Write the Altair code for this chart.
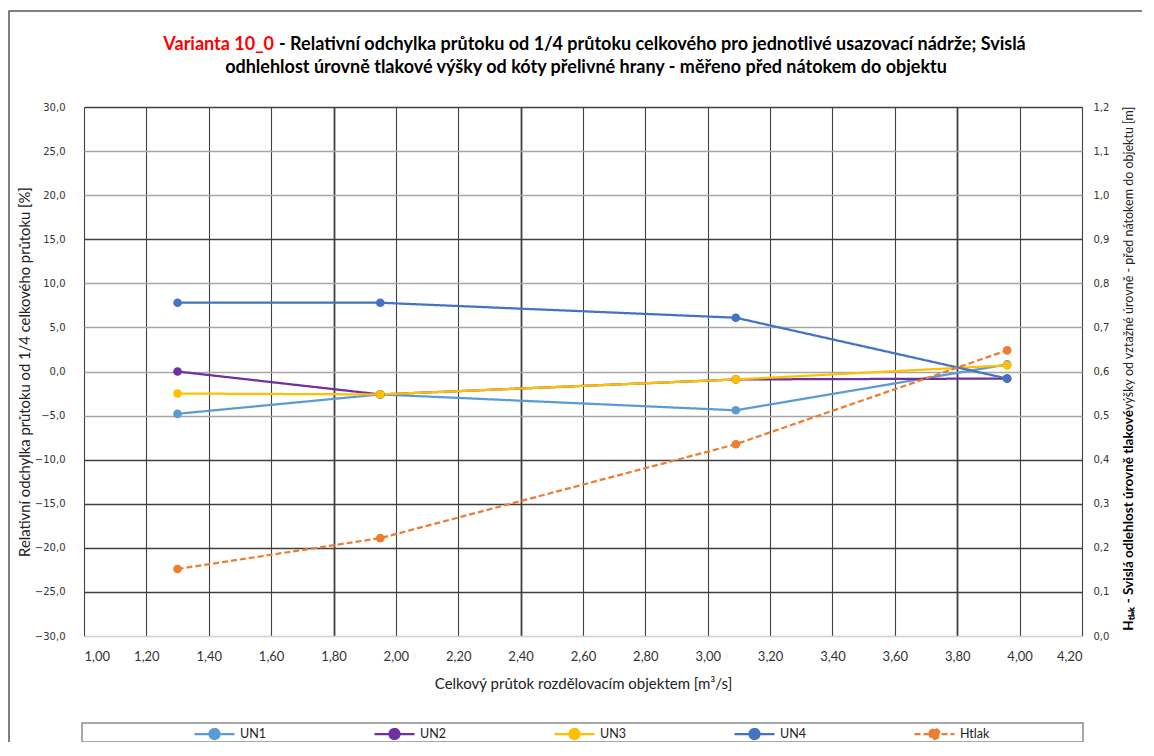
import altair as alt
import pandas as pd

# ---- data ----
x_flow = [1.30, 1.95, 3.09, 3.96]
un1 = [-4.8, -2.6, -4.4, 0.8]
un2 = [0.0, -2.6, -0.9, -0.8]
un3 = [-2.5, -2.6, -0.9, 0.7]
un4 = [7.8, 7.8, 6.1, -0.8]
htlak = [0.152, 0.222, 0.435, 0.648]

series_names = ["UN1", "UN2", "UN3", "UN4", "Htlak"]
series_colors = ["#5B9BD5", "#7030A0", "#FFC000", "#4472C4", "#ED7D31"]
series_dash = [[1, 0], [1, 0], [1, 0], [1, 0], [6, 3]]

x_ticks = [1.0, 1.2, 1.4, 1.6, 1.8, 2.0, 2.2, 2.4, 2.6, 2.8, 3.0, 3.2, 3.4, 3.6, 3.8, 4.0, 4.2]
y_left_ticks = [-30, -25, -20, -15, -10, -5, 0, 5, 10, 15, 20, 25, 30]
y_right_ticks = [0.0, 0.1, 0.2, 0.3, 0.4, 0.5, 0.6, 0.7, 0.8, 0.9, 1.0, 1.1, 1.2]

title_red = "Varianta 10_0"
title_line1 = "- Relativní odchylka průtoku od 1/4 průtoku celkového pro jednotlivé usazovací nádrže; Svislá"
title_line2 = "odhlehlost úrovně tlakové výšky od kóty přelivné hrany - měřeno před nátokem do objektu"
x_title = "Celkový průtok rozdělovacím objektem [m³/s]"
y_left_title = "Relativní odchylka průtoku od 1/4 celkového průtoku [%]"
y_right_title_bold = "Hₜₗₐₖ - Svislá odlehlost úrovně tlakové"
y_right_title_rest = " výšky od vztažné úrovně - před nátokem do objektu [m]"

left_rows = []
for name, vals in zip(series_names[:4], [un1, un2, un3, un4]):
    for xv, yv in zip(x_flow, vals):
        left_rows.append({"Q": xv, "val": yv, "series": name})
left_df = pd.DataFrame(left_rows)
right_df = pd.DataFrame({"Q": x_flow, "val": htlak, "series": ["Htlak"] * len(x_flow)})

FONT = "Lato"
W, H = 998, 529

legend_path = ("M-1,0L1,0 "
               "M-0.25,0A0.25,0.25 0 1,1 0.25,0A0.25,0.25 0 1,1 -0.25,0Z")

legend = alt.Legend(
    orient="none", legendX=109, legendY=605.5, direction="horizontal", columns=5,
    gridAlign="all", columnPadding=100, title=None, padding=0,
    symbolType=legend_path, symbolSize=1600, symbolStrokeWidth=2.25,
    labelFont=FONT, labelFontSize=12.5, labelColor="#222222", labelOffset=4,
)

color = alt.Color("series:N", scale=alt.Scale(domain=series_names, range=series_colors), legend=legend)
dash = alt.StrokeDash("series:N", scale=alt.Scale(domain=series_names, range=series_dash), legend=legend)

x_enc = alt.X(
    "Q:Q",
    scale=alt.Scale(domain=[1.0, 4.2], nice=False, zero=False),
    axis=alt.Axis(
        values=x_ticks, title=x_title, domain=False, ticks=False,
        labelExpr="replace(format(datum.value, '.2f'), '.', ',')",
        labelFont=FONT, labelFontSize=13, labelColor="#333333", labelPadding=14,
        titleFont=FONT, titleFontSize=15, titleFontWeight="normal", titleColor="#222222",
        titlePadding=13,
        grid=True, gridColor="#404040",
        gridWidth={"condition": {"test": "abs(datum.value-1.8)<0.01 || abs(datum.value-2.4)<0.01 || abs(datum.value-3.8)<0.01", "value": 1.8}, "value": 1.1},
    ),
)

left_axis = alt.Axis(
    values=y_left_ticks, title=y_left_title, domain=False, ticks=False,
    labelExpr="replace(format(datum.value, '.1f'), '.', ',')",
    labelFont="DejaVu Sans", labelFontSize=10, labelColor="#333333", labelPadding=19,
    titleFont=FONT, titleFontSize=14.8, titleFontWeight="normal", titleColor="#222222",
    titlePadding=2,
    grid=True,
    gridColor={"condition": [
        {"test": "datum.value == -30", "value": "#d0d0d0"},
        {"test": "datum.value == 30 || datum.value == 15 || datum.value <= -10", "value": "#404040"},
    ], "value": "#a6a6a6"},
    gridWidth=1.3,
)
right_axis = alt.Axis(
    values=y_right_ticks, title=None, orient="right", domain=False, ticks=False, grid=False,
    labelExpr="replace(format(datum.value, '.1f'), '.', ',')",
    labelFont="DejaVu Sans", labelFontSize=10, labelColor="#333333", labelPadding=11,
)

y_left = alt.Y("val:Q", scale=alt.Scale(domain=[-30, 30], nice=False), axis=left_axis)
y_right = alt.Y("val:Q", scale=alt.Scale(domain=[0, 1.2], nice=False), axis=right_axis)

left_lines = alt.Chart(left_df).mark_line(strokeWidth=2.25).encode(
    x=x_enc, y=y_left, color=color, strokeDash=dash, detail="series:N")
left_points = alt.Chart(left_df).mark_point(filled=True, size=75, opacity=1).encode(
    x=x_enc, y=y_left, color=color)
left = alt.layer(left_lines, left_points)

right_lines = alt.Chart(right_df).mark_line(strokeWidth=2.25).encode(
    x=x_enc, y=y_right, color=color, strokeDash=dash)
right_points = alt.Chart(right_df).mark_point(filled=True, size=75, opacity=1).encode(
    x=x_enc, y=y_right, color=color)
right = alt.layer(right_lines, right_points)

one = pd.DataFrame({"k": [0]})

frame = alt.Chart(one).mark_rect(fillOpacity=0, fill="white", stroke="#555555", strokeWidth=1.5).encode(
    x=alt.value(-75), x2=alt.value(1120), y=alt.value(-96), y2=alt.value(700))
legend_box = alt.Chart(one).mark_rect(fillOpacity=0, fill="white", stroke="#8c8c8c", strokeWidth=1.5).encode(
    x=alt.value(-2), x2=alt.value(999), y=alt.value(616), y2=alt.value(635))

TS = 18
t_red = alt.Chart(pd.DataFrame({"t": [title_red]})).mark_text(
    font=FONT, fontSize=TS, fontWeight="bold", color="#FF0000", align="right", baseline="middle"
).encode(text="t:N", x=alt.value(190), y=alt.value(-62))
t_l1 = alt.Chart(pd.DataFrame({"t": [title_line1]})).mark_text(
    font=FONT, fontSize=TS, fontWeight="bold", color="#000000", align="left", baseline="middle"
).encode(text="t:N", x=alt.value(195), y=alt.value(-62))
t_l2 = alt.Chart(pd.DataFrame({"t": [title_line2]})).mark_text(
    font=FONT, fontSize=TS, fontWeight="bold", color="#000000", align="center", baseline="middle"
).encode(text="t:N", x=alt.value(502), y=alt.value(-39))

r_bold = alt.Chart(pd.DataFrame({"t": [y_right_title_bold]})).mark_text(
    font=FONT, fontSize=13.5, fontWeight="bold", color="#000000", align="right", baseline="middle", angle=270
).encode(text="t:N", x=alt.value(1045), y=alt.value(303))
r_rest = alt.Chart(pd.DataFrame({"t": [y_right_title_rest]})).mark_text(
    font=FONT, fontSize=12.5, fontWeight="normal", color="#222222", align="left", baseline="middle", angle=270
).encode(text="t:N", x=alt.value(1045), y=alt.value(303))

chart = alt.layer(
    frame, legend_box, left, right, t_red, t_l1, t_l2, r_bold, r_rest
).resolve_scale(y="independent").properties(
    width=W, height=H,
    autosize=alt.AutoSizeParams(type="none"),
    padding={"left": 76, "top": 99, "right": 60, "bottom": 106},
).configure_view(stroke=None).configure(background="white")

chart.save("out.html", embed_options={"renderer": "svg", "actions": False})
